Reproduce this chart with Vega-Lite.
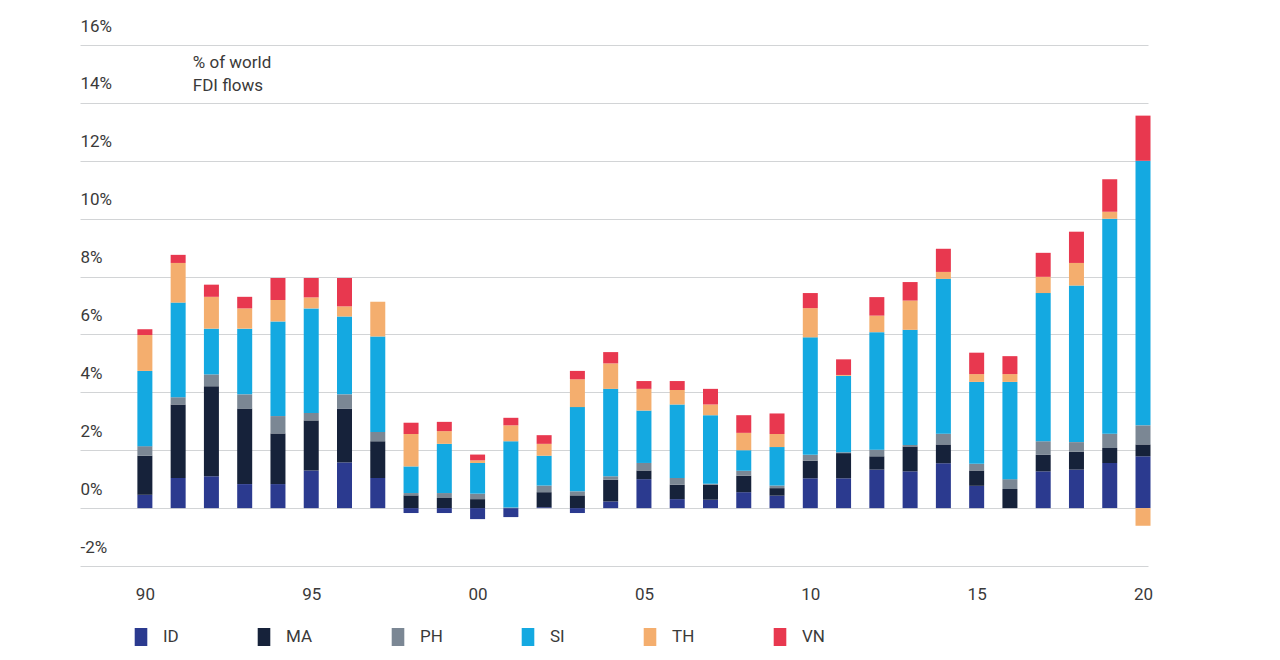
{
  "$schema": "https://vega.github.io/schema/vega-lite/v6.json",
  "width": 1068,
  "height": 521,
  "autosize": {"type": "none"},
  "padding": {"left": 80, "top": 45, "right": 132, "bottom": 94},
  "background": "white",
  "config": {
    "font": "Roboto",
    "view": {"stroke": null},
    "axis": {"labelFont": "Roboto", "labelFontSize": 17, "labelColor": "#3a3a3a"}
  },
  "datasets": {
    "fdi": [
      {"year": 1990, "ID": 0.46, "MA": 1.35, "PH": 0.33, "SI": 2.6, "TH": 1.24, "VN": 0.2},
      {"year": 1991, "ID": 1.04, "MA": 2.54, "PH": 0.25, "SI": 3.27, "TH": 1.37, "VN": 0.28},
      {"year": 1992, "ID": 1.1, "MA": 3.11, "PH": 0.41, "SI": 1.58, "TH": 1.1, "VN": 0.42},
      {"year": 1993, "ID": 0.83, "MA": 2.61, "PH": 0.49, "SI": 2.27, "TH": 0.7, "VN": 0.4},
      {"year": 1994, "ID": 0.83, "MA": 1.75, "PH": 0.6, "SI": 3.27, "TH": 0.74, "VN": 0.76},
      {"year": 1995, "ID": 1.3, "MA": 1.73, "PH": 0.26, "SI": 3.61, "TH": 0.38, "VN": 0.67},
      {"year": 1996, "ID": 1.58, "MA": 1.86, "PH": 0.49, "SI": 2.69, "TH": 0.35, "VN": 0.98},
      {"year": 1997, "ID": 1.04, "MA": 1.27, "PH": 0.32, "SI": 3.3, "TH": 1.2, "VN": 0},
      {"year": 1998, "ID": -0.17, "MA": 0.44, "PH": 0.08, "SI": 0.92, "TH": 1.12, "VN": 0.39},
      {"year": 1999, "ID": -0.17, "MA": 0.35, "PH": 0.17, "SI": 1.7, "TH": 0.44, "VN": 0.32},
      {"year": 2000, "ID": -0.38, "MA": 0.31, "PH": 0.19, "SI": 1.06, "TH": 0.09, "VN": 0.2},
      {"year": 2001, "ID": -0.31, "MA": 0, "PH": 0.02, "SI": 2.29, "TH": 0.55, "VN": 0.26},
      {"year": 2002, "ID": 0.03, "MA": 0.52, "PH": 0.23, "SI": 1.03, "TH": 0.41, "VN": 0.3},
      {"year": 2003, "ID": -0.17, "MA": 0.44, "PH": 0.14, "SI": 2.91, "TH": 0.96, "VN": 0.29},
      {"year": 2004, "ID": 0.23, "MA": 0.75, "PH": 0.12, "SI": 3.02, "TH": 0.88, "VN": 0.39},
      {"year": 2005, "ID": 1.0, "MA": 0.3, "PH": 0.26, "SI": 1.81, "TH": 0.75, "VN": 0.27},
      {"year": 2006, "ID": 0.31, "MA": 0.5, "PH": 0.23, "SI": 2.54, "TH": 0.5, "VN": 0.31},
      {"year": 2007, "ID": 0.29, "MA": 0.52, "PH": 0.03, "SI": 2.37, "TH": 0.37, "VN": 0.54},
      {"year": 2008, "ID": 0.55, "MA": 0.57, "PH": 0.17, "SI": 0.71, "TH": 0.6, "VN": 0.61},
      {"year": 2009, "ID": 0.43, "MA": 0.26, "PH": 0.09, "SI": 1.33, "TH": 0.45, "VN": 0.71},
      {"year": 2010, "ID": 1.03, "MA": 0.61, "PH": 0.2, "SI": 4.06, "TH": 1.01, "VN": 0.52},
      {"year": 2011, "ID": 1.03, "MA": 0.87, "PH": 0.03, "SI": 2.64, "TH": 0.03, "VN": 0.54},
      {"year": 2012, "ID": 1.33, "MA": 0.46, "PH": 0.23, "SI": 4.06, "TH": 0.57, "VN": 0.64},
      {"year": 2013, "ID": 1.27, "MA": 0.86, "PH": 0.05, "SI": 3.98, "TH": 1.01, "VN": 0.64},
      {"year": 2014, "ID": 1.55, "MA": 0.65, "PH": 0.37, "SI": 5.35, "TH": 0.24, "VN": 0.8},
      {"year": 2015, "ID": 0.77, "MA": 0.53, "PH": 0.23, "SI": 2.83, "TH": 0.27, "VN": 0.74},
      {"year": 2016, "ID": 0, "MA": 0.66, "PH": 0.34, "SI": 3.36, "TH": 0.27, "VN": 0.62},
      {"year": 2017, "ID": 1.27, "MA": 0.57, "PH": 0.47, "SI": 5.12, "TH": 0.56, "VN": 0.83},
      {"year": 2018, "ID": 1.33, "MA": 0.62, "PH": 0.33, "SI": 5.41, "TH": 0.78, "VN": 1.08},
      {"year": 2019, "ID": 1.56, "MA": 0.52, "PH": 0.49, "SI": 7.43, "TH": 0.24, "VN": 1.12},
      {"year": 2020, "ID": 1.79, "MA": 0.41, "PH": 0.66, "SI": 9.14, "TH": -0.61, "VN": 1.56}
    ],
    "note": [{"label": ["% of world", "FDI flows"]}]
  },
  "layer": [
    {
      "data": {"name": "fdi"},
      "transform": [
        {"fold": ["ID", "MA", "PH", "SI", "TH", "VN"], "as": ["country", "share"]}
      ],
      "mark": {"type": "bar", "orient": "vertical", "width": 15},
      "encoding": {
        "x": {
          "field": "year",
          "type": "quantitative",
          "scale": {"domain": [1988.05, 2020.15], "nice": false, "zero": false, "padding": 0},
          "axis": {
            "title": null,
            "domain": false,
            "ticks": false,
            "grid": false,
            "values": [1990, 1995, 2000, 2005, 2010, 2015, 2020],
            "labelExpr": "substring(toString(datum.value), 2)",
            "labelPadding": 20
          }
        },
        "y": {
          "field": "share",
          "type": "quantitative",
          "stack": "zero",
          "scale": {"domain": [-2, 16], "nice": false},
          "axis": {
            "title": null,
            "domain": false,
            "ticks": false,
            "tickSize": 0,
            "values": [-2, 0, 2, 4, 6, 8, 10, 12, 14, 16],
            "labelExpr": "datum.value + '%'",
            "labelAlign": "left",
            "labelBaseline": "alphabetic",
            "labelPadding": 0,
            "labelOffset": -14,
            "gridColor": "#d2d4d6",
            "gridWidth": 1
          }
        },
        "order": {"field": "country", "sort": "ascending"},
        "color": {
          "field": "country",
          "type": "nominal",
          "scale": {
            "domain": ["ID", "MA", "PH", "SI", "TH", "VN"],
            "range": ["#2b3a8f", "#16223a", "#7b8794", "#14a9e1", "#f4ae6e", "#e8384f"]
          },
          "legend": {
            "title": null,
            "orient": "none",
            "direction": "horizontal",
            "legendX": 52,
            "legendY": 583,
            "symbolType": "M-0.7,-1H0.7V1H-0.7Z",
            "symbolSize": 324,
            "symbolStrokeWidth": 0,
            "labelFont": "Roboto",
            "labelFontSize": 17,
            "labelColor": "#3a3a3a",
            "labelOffset": 13,
            "columnPadding": 76
          }
        }
      }
    },
    {
      "mark": {"type": "rule", "color": "#7a7f88", "strokeWidth": 2},
      "encoding": {"y": {"datum": 0}}
    },
    {
      "mark": {"type": "rule", "color": "#d2d4d6", "strokeWidth": 1},
      "encoding": {
        "y": {"datum": -2},
        "x": {"datum": 1987.85},
        "x2": {"datum": 2021.35}
      }
    },
    {
      "data": {"name": "note"},
      "mark": {
        "type": "text",
        "align": "left",
        "baseline": "top",
        "font": "Roboto",
        "fontSize": 17,
        "lineHeight": 23,
        "color": "#3a3a3a"
      },
      "encoding": {
        "text": {"field": "label"},
        "x": {"datum": 1991.44},
        "y": {"datum": 15.64}
      }
    }
  ]
}
